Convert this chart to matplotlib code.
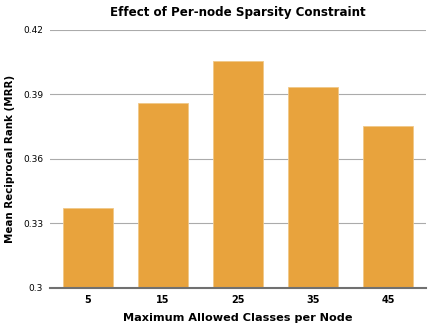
import matplotlib.pyplot as plt

categories = ['5', '15', '25', '35', '45']
mrr = [0.3373, 0.3859, 0.4057, 0.3932, 0.3753]
yticks = [0.3, 0.33, 0.36, 0.39, 0.42]
ytick_labels = ['0.3', '0.33', '0.36', '0.39', '0.42']

fig = plt.figure(figsize=(4.39, 3.28), dpi=100)
ax = fig.add_axes([0.114, 0.122, 0.856, 0.787])

x = range(len(categories))
ax.bar(x, mrr, width=0.667, color='#E8A33D', edgecolor='#F0C888', linewidth=0.6, zorder=3)

ax.set_xlim(-0.5, 4.5)
ax.set_ylim(0.3, 0.42)
ax.set_yticks(yticks)
ax.set_yticklabels(ytick_labels, fontsize=6.5)
ax.set_xticks(list(x))
ax.set_xticklabels(categories, fontsize=7, fontweight='bold')
ax.tick_params(length=0, pad=5)
ax.grid(axis='y', color='#ababab', linewidth=0.8, zorder=0)

for s in ['top', 'right', 'left']:
    ax.spines[s].set_visible(False)
ax.spines['bottom'].set_color('#707070')
ax.spines['bottom'].set_linewidth(1.5)
ax.spines['bottom'].set_zorder(4)

ax.set_title('Effect of Per-node Sparsity Constraint', fontsize=8.6, fontweight='bold', pad=10)
ax.set_xlabel('Maximum Allowed Classes per Node', fontsize=8.1, fontweight='bold', labelpad=6)
ax.set_ylabel('Mean Reciprocal Rank (MRR)', fontsize=7.4, fontweight='bold', labelpad=6)

plt.savefig('out.png', dpi=100)
